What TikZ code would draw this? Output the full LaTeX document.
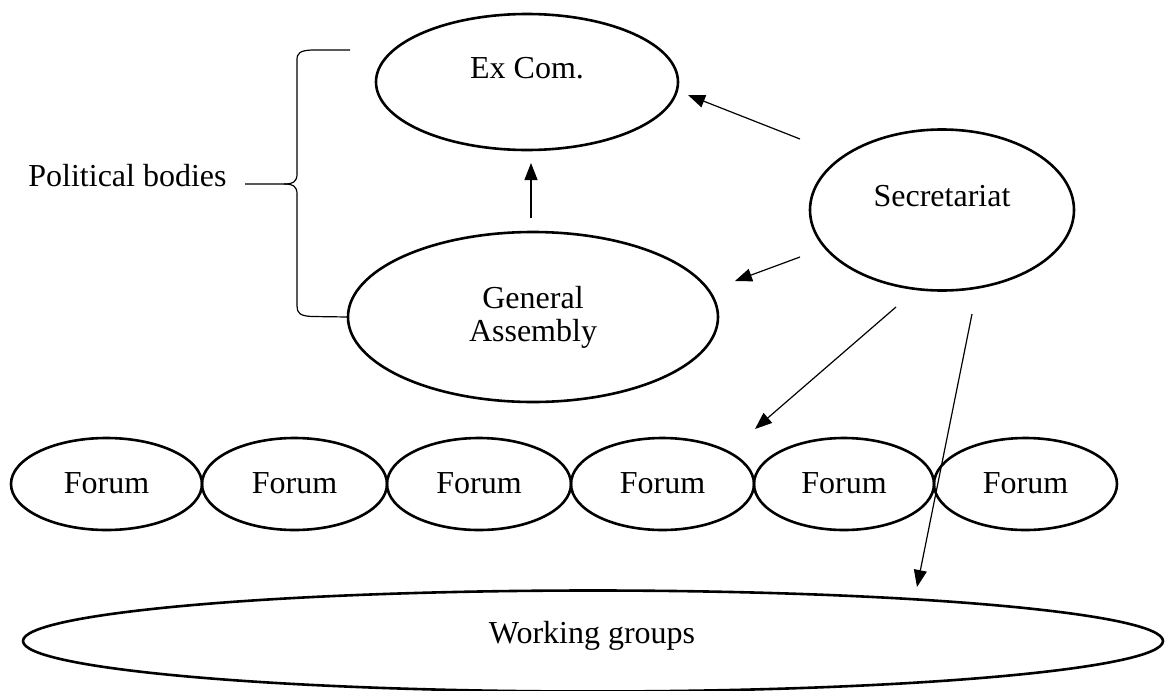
\documentclass[tikz,border=0pt]{standalone}
\usepackage{fontspec}
\setmainfont{Liberation Serif}
\usetikzlibrary{shapes.geometric,arrows.meta}
\begin{document}
\begin{tikzpicture}[x=1pt,y=-1pt,
  ell/.style={ellipse,draw,line width=2.6pt,inner sep=0pt,outer sep=0pt},
  txt/.style={anchor=base,inner sep=0pt,font=\fontsize{32}{33}\selectfont},
  arr/.style={line width=1.2pt,-{Triangle[length=17pt,width=13pt]}},
  bracestyle/.style={line width=1.2pt}]
\useasboundingbox (0,0) rectangle (1171,691);
% ellipses
\node[ell,minimum width=302pt,minimum height=136pt] (excom) at (527,82) {};
\node[ell,minimum width=370pt,minimum height=170pt] (ga) at (533,317) {};
\node[ell,minimum width=264pt,minimum height=161pt] (sec) at (942,210) {};
\node[ell,minimum width=191pt,minimum height=92pt] (f1) at (106.5,484) {};
\node[ell,minimum width=185pt,minimum height=92pt] (f2) at (294.5,484) {};
\node[ell,minimum width=184pt,minimum height=92pt] (f3) at (479,484) {};
\node[ell,minimum width=183pt,minimum height=92pt] (f4) at (662.5,484) {};
\node[ell,minimum width=180pt,minimum height=92pt] (f5) at (844,484) {};
\node[ell,minimum width=183pt,minimum height=92pt] (f6) at (1025.5,484) {};
\node[ell,minimum width=1140pt,minimum height=101pt] (wg) at (593,641) {};
% texts
\node[txt] (texcom) at (527,78) {Ex Com.};
\node[txt] (tga1) at (533,308) {General};
\node[txt] (tga2) at (533,341) {Assembly};
\node[txt] (tsec) at (942,206) {Secretariat};
\node[txt] (tf1) at (106.5,493) {Forum};
\node[txt] (tf2) at (294.5,493) {Forum};
\node[txt] (tf3) at (479,493) {Forum};
\node[txt] (tf4) at (662.5,493) {Forum};
\node[txt] (tf5) at (844,493) {Forum};
\node[txt] (tf6) at (1025.5,493) {Forum};
\node[txt] (twg) at (592,643) {Working groups};
\node[txt] (tpol) at (127.5,186) {Political bodies};
% arrow end points
\coordinate (s1) at (800,139); \coordinate (e1) at (688,95);
\coordinate (s2) at (800,257); \coordinate (e2) at (735,281);
\coordinate (s3) at (531,218); \coordinate (e3) at (531,163);
\coordinate (s4) at (896,307); \coordinate (e4) at (755,429);
\coordinate (s5) at (972,314); \coordinate (e5) at (917,587);
\draw[arr] (s1) -- (e1);
\draw[arr] (s2) -- (e2);
\draw[arr] (s3) -- (e3);
\draw[arr] (s4) -- (e4);
\draw[arr] (s5) -- (e5);
% brace
\coordinate (btop) at (350,50);
\coordinate (btip) at (245,184);
\draw[bracestyle] (btop) -- (312,50) .. controls (300,50.5) and (297,53) .. (297,60) -- (297,174) .. controls (297,181) and (294,184) .. (284,184) -- (btip);
\draw[bracestyle] (284,184) .. controls (294,184) and (297,187) .. (297,194) -- (297,306) .. controls (297,313) and (300,316) .. (312,316.5) -- (ga.west);
\end{tikzpicture}
\end{document}
